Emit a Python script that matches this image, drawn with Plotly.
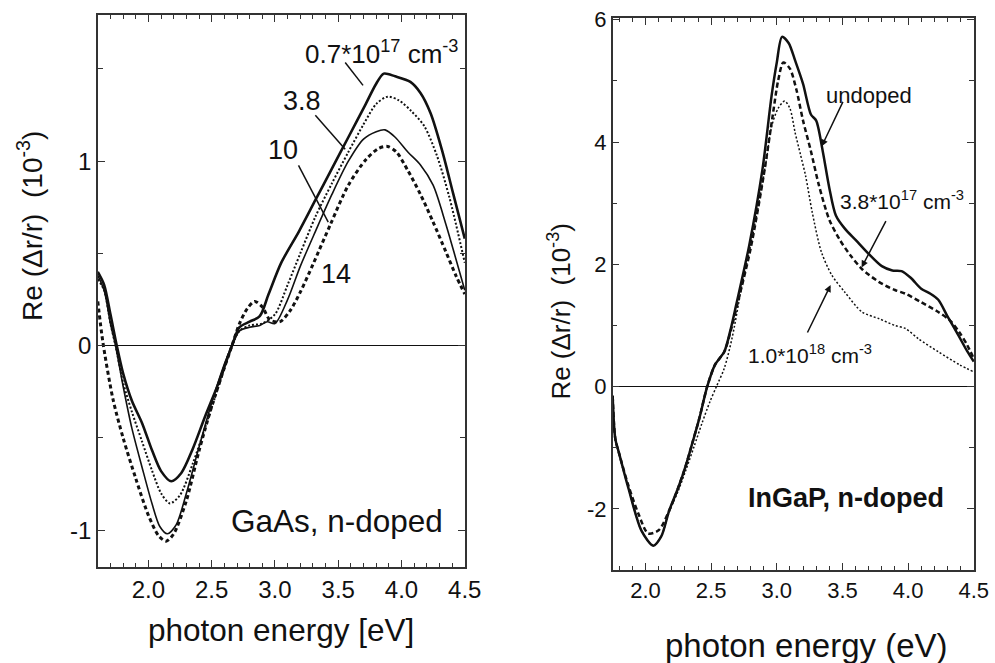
import plotly.graph_objects as go

# ---------------- data: GaAs, n-doped (left panel) ----------------
gaas_07_e = [1.60, 1.65, 1.70, 1.75, 1.80, 1.87, 1.95, 2.03, 2.10, 2.18, 2.26, 2.35, 2.45, 2.55, 2.66, 2.72,
             2.80, 2.88, 2.95, 3.05, 3.19, 3.32, 3.45, 3.58, 3.71, 3.80, 3.86, 3.95, 4.07, 4.15, 4.23, 4.32, 4.41, 4.50]
gaas_07_v = [0.40, 0.33, 0.17, 0.00, -0.15, -0.30, -0.42, -0.57, -0.68, -0.735, -0.69, -0.56, -0.38, -0.21, 0.00, 0.10,
             0.13, 0.16, 0.28, 0.45, 0.62, 0.79, 0.96, 1.13, 1.30, 1.42, 1.475, 1.46, 1.43, 1.37, 1.26, 1.06, 0.82, 0.58]

gaas_38_e = [1.60, 1.65, 1.70, 1.74, 1.80, 1.87, 1.95, 2.03, 2.10, 2.17, 2.25, 2.35, 2.45, 2.55, 2.66, 2.72, 2.80,
             2.90, 3.00, 3.10, 3.20, 3.32, 3.45, 3.58, 3.70, 3.80, 3.89, 3.98, 4.08, 4.18, 4.28, 4.38, 4.50]
gaas_38_v = [0.36, 0.30, 0.12, 0.00, -0.20, -0.36, -0.52, -0.68, -0.80, -0.855, -0.81, -0.64, -0.44, -0.23, 0.00, 0.08, 0.11,
             0.12, 0.17, 0.33, 0.50, 0.70, 0.88, 1.05, 1.20, 1.31, 1.35, 1.33, 1.27, 1.19, 1.03, 0.80, 0.45]

gaas_10_e = [1.60, 1.65, 1.70, 1.74, 1.80, 1.87, 1.95, 2.03, 2.09, 2.15, 2.22, 2.30, 2.40, 2.50, 2.60, 2.66, 2.72, 2.80,
             2.88, 2.94, 3.00, 3.10, 3.20, 3.32, 3.45, 3.58, 3.70, 3.80, 3.87, 3.95, 4.05, 4.15, 4.25, 4.35, 4.43, 4.50]
gaas_10_v = [0.38, 0.30, 0.12, 0.00, -0.22, -0.45, -0.66, -0.86, -0.98, -1.02, -0.97, -0.80, -0.55, -0.31, -0.10, 0.00, 0.08, 0.10,
             0.11, 0.13, 0.12, 0.25, 0.43, 0.62, 0.82, 1.00, 1.12, 1.16, 1.17, 1.13, 1.05, 0.98, 0.87, 0.66, 0.47, 0.30]

gaas_14_e = [1.60, 1.64, 1.72, 1.80, 1.90, 2.00, 2.08, 2.14, 2.20, 2.30, 2.40, 2.50, 2.60, 2.66, 2.72, 2.78, 2.84, 2.90,
             2.96, 3.04, 3.12, 3.20, 3.30, 3.44, 3.58, 3.72, 3.82, 3.89, 3.96, 4.05, 4.15, 4.25, 4.35, 4.43, 4.50]
gaas_14_v = [0.24, 0.02, -0.29, -0.50, -0.72, -0.92, -1.03, -1.06, -1.02, -0.84, -0.57, -0.33, -0.12, 0.00, 0.12, 0.20, 0.24, 0.21,
             0.14, 0.13, 0.19, 0.29, 0.44, 0.66, 0.87, 1.01, 1.07, 1.08, 1.05, 0.95, 0.82, 0.67, 0.51, 0.38, 0.28]

# ---------------- data: InGaP, n-doped (right panel) ----------------
ingap_un_e = [1.75, 1.77, 1.80, 1.87, 1.97, 2.06, 2.12, 2.18, 2.25, 2.31, 2.36, 2.41, 2.47, 2.53, 2.60, 2.65, 2.69,
              2.79, 2.89, 2.96, 3.00, 3.04, 3.09, 3.14, 3.20, 3.26, 3.30, 3.35, 3.40, 3.45, 3.52, 3.60, 3.70, 3.80,
              3.88, 3.95, 4.02, 4.10, 4.17, 4.23, 4.30, 4.38, 4.45, 4.50]
ingap_un_v = [-0.15, -0.85, -1.10, -1.66, -2.36, -2.60, -2.45, -2.03, -1.65, -1.27, -0.90, -0.52, 0.00, 0.36, 0.57, 0.95, 1.33,
              2.31, 3.54, 4.75, 5.30, 5.72, 5.62, 5.33, 4.95, 4.45, 4.35, 3.85, 3.25, 2.80, 2.58, 2.40, 2.17, 1.97,
              1.90, 1.89, 1.78, 1.60, 1.52, 1.42, 1.15, 0.85, 0.58, 0.41]

ingap_38_e = [1.75, 1.77, 1.80, 1.87, 1.95, 2.02, 2.10, 2.18, 2.25, 2.31, 2.36, 2.41, 2.47, 2.53, 2.60, 2.65, 2.70,
              2.80, 2.90, 2.97, 3.01, 3.05, 3.10, 3.15, 3.20, 3.26, 3.32, 3.40, 3.48, 3.56, 3.65, 3.78, 3.90, 3.98,
              4.10, 4.23, 4.32, 4.39, 4.45, 4.50]
ingap_38_v = [-0.15, -0.85, -1.10, -1.62, -2.10, -2.40, -2.35, -2.03, -1.65, -1.27, -0.90, -0.52, 0.00, 0.36, 0.57, 0.92, 1.35,
              2.25, 3.45, 4.45, 5.00, 5.30, 5.20, 4.85, 4.35, 3.85, 3.30, 2.73, 2.40, 2.15, 1.92, 1.71, 1.58, 1.52,
              1.38, 1.22, 1.08, 0.89, 0.68, 0.46]

ingap_10_e = [1.75, 1.77, 1.80, 1.87, 1.97, 2.06, 2.12, 2.18, 2.25, 2.31, 2.37, 2.43, 2.49, 2.54, 2.60, 2.66, 2.73,
              2.80, 2.86, 2.92, 2.96, 3.01, 3.06, 3.10, 3.14, 3.18, 3.22, 3.27, 3.34, 3.42, 3.52, 3.65, 3.78, 3.90,
              3.98, 4.08, 4.23, 4.39, 4.50]
ingap_10_v = [-0.15, -0.85, -1.10, -1.66, -2.36, -2.60, -2.45, -2.05, -1.70, -1.35, -0.98, -0.60, -0.25, 0.00, 0.30, 0.80, 1.60,
              2.30, 2.96, 3.70, 4.25, 4.55, 4.67, 4.55, 4.15, 3.80, 3.44, 2.85, 2.20, 1.82, 1.54, 1.22, 1.11, 1.00,
              0.95, 0.78, 0.57, 0.36, 0.24]

x_tickvals = [2.0, 2.5, 3.0, 3.5, 4.0, 4.5]
x_ticktext = ["2.0", "2.5", "3.0", "3.5", "4.0", "4.5"]
left_y_tickvals = [-1, 0, 1]
left_y_ticktext = ["-1", "0", "1"]
right_y_tickvals = [-2, 0, 2, 4, 6]
right_y_ticktext = ["-2", "0", "2", "4", "6"]

FONT = "Liberation Sans, Arial, Helvetica, sans-serif"
BLACK = "#111111"

fig = go.Figure()

def add(x, y, xa, ya, dash, width):
    fig.add_trace(go.Scatter(x=x, y=y, xaxis=xa, yaxis=ya, mode="lines",
                             line=dict(color=BLACK, width=width, dash=dash, shape="spline", smoothing=0.8),
                             showlegend=False, hoverinfo="skip"))

add(gaas_14_e, gaas_14_v, "x", "y", "4px,3px", 3.0)
add(gaas_10_e, gaas_10_v, "x", "y", "solid", 1.6)
add(gaas_38_e, gaas_38_v, "x", "y", "2px,2px", 2.0)
add(gaas_07_e, gaas_07_v, "x", "y", "solid", 2.6)

add(ingap_10_e, ingap_10_v, "x2", "y2", "2px,2px", 1.5)
add(ingap_38_e, ingap_38_v, "x2", "y2", "5px,3px", 2.5)
add(ingap_un_e, ingap_un_v, "x2", "y2", "solid", 2.5)

def axis_common(size):
    return dict(showline=True, linecolor="#333333", linewidth=1.5, mirror="allticks",
                ticks="inside", ticklen=7, tickwidth=1.2, tickcolor="#333333", ticklabeloverflow="allow",
                showgrid=False, tickfont=dict(family=FONT, size=size, color=BLACK))

fig.update_layout(
    width=995, height=663,
    margin=dict(l=0, r=0, t=0, b=0),
    paper_bgcolor="white", plot_bgcolor="white",
    xaxis=dict(domain=[0.0999, 0.475], range=[1.6, 4.502], tickvals=x_tickvals, ticktext=x_ticktext,
               minor=dict(dtick=0.1, tick0=1.6, ticklen=4, ticks="inside", tickcolor="#333333"),
               anchor="y", zeroline=False, **axis_common(24)),
    yaxis=dict(domain=[0.1472, 0.9931], range=[-1.2, 1.79], tickvals=left_y_tickvals, ticktext=left_y_ticktext,
               minor=dict(dtick=0.5, tick0=0, ticklen=5, ticks="inside", tickcolor="#333333"),
               anchor="x", zeroline=True, zerolinecolor=BLACK, zerolinewidth=1.2, **axis_common(24)),
    xaxis2=dict(domain=[0.6258, 0.9949], range=[1.75, 4.502], tickvals=x_tickvals, ticktext=x_ticktext,
                minor=dict(dtick=0.1, tick0=1.8, ticklen=4, ticks="inside", tickcolor="#333333"),
                anchor="y2", zeroline=False, **axis_common(22)),
    yaxis2=dict(domain=[0.1425, 0.9885], range=[-3.0, 6.02], tickvals=right_y_tickvals, ticktext=right_y_ticktext,
                minor=dict(dtick=1, tick0=0, ticklen=5, ticks="inside", tickcolor="#333333"),
                anchor="x2", zeroline=True, zerolinecolor=BLACK, zerolinewidth=1.2, **axis_common(22)),
)

# leader lines, left panel
for (x0, y0, x1, y1) in [(3.555, 1.535, 3.696, 1.411), (3.319, 1.249, 3.555, 1.065), (3.186, 0.978, 3.421, 0.670)]:
    fig.add_shape(type="line", xref="x", yref="y", x0=x0, y0=y0, x1=x1, y1=y1,
                  line=dict(color=BLACK, width=1.5))

def txt(x, y, text, xref, yref, size, bold=False, **kw):
    fig.add_annotation(x=x, y=y, xref=xref, yref=yref, text=f"<b>{text}</b>" if bold else text,
                       xanchor="center", yanchor="middle", borderpad=0,
                       showarrow=False, font=dict(family=FONT, size=size, color=BLACK), **kw)

txt(3.84, 1.59, "0.7*10<sup>17</sup> cm<sup>-3</sup>", "x", "y", 26)
txt(3.217, 1.324, "3.8", "x", "y", 27)
txt(3.06, 1.06, "10", "x", "y", 27)
txt(3.484, 0.389, "14", "x", "y", 27)
txt(3.492, -0.951, "GaAs, n-doped", "x", "y", 31.5)

txt(3.70, 4.76, "undoped", "x2", "y2", 22)
txt(3.95, 3.06, "3.8*10<sup>17</sup> cm<sup>-3</sup>", "x2", "y2", 21)
txt(3.25, 0.54, "1.0*10<sup>18</sup> cm<sup>-3</sup>", "x2", "y2", 21)
txt(3.53, -1.82, "InGaP, n-doped", "x2", "y2", 27, bold=True)

# arrows, right panel
for (xt, yt, xh, yh) in [(3.509, 4.68, 3.342, 3.93), (3.837, 2.73, 3.646, 1.95), (3.228, 0.86, 3.41, 1.66)]:
    fig.add_annotation(x=xh, y=yh, ax=xt, ay=yt, xref="x2", yref="y2", axref="x2", ayref="y2",
                       text="", showarrow=True, arrowhead=2, arrowsize=0.9, arrowwidth=1.5, arrowcolor=BLACK)

# axis titles
txt(0.2874, 0.0508, "photon energy [eV]", "paper", "paper", 31.5)
txt(0.8236, 0.0264, "photon energy (eV)", "paper", "paper", 33)
txt(0.0306, 0.6703, "Re (Δr/r)  (10<sup>-3</sup>)", "paper", "paper", 28, textangle=-90)
txt(0.5719, 0.5403, "Re (Δr/r)  (10<sup>-3</sup>)", "paper", "paper", 26, textangle=-90)

post = ("document.documentElement.style.margin='0';document.documentElement.style.padding='0';"
        "document.documentElement.style.overflow='hidden';"
        "document.body.style.margin='0';document.body.style.padding='0';document.body.style.overflow='hidden';")
fig.write_html("out.html", config={"displayModeBar": False, "responsive": False}, post_script=post)
